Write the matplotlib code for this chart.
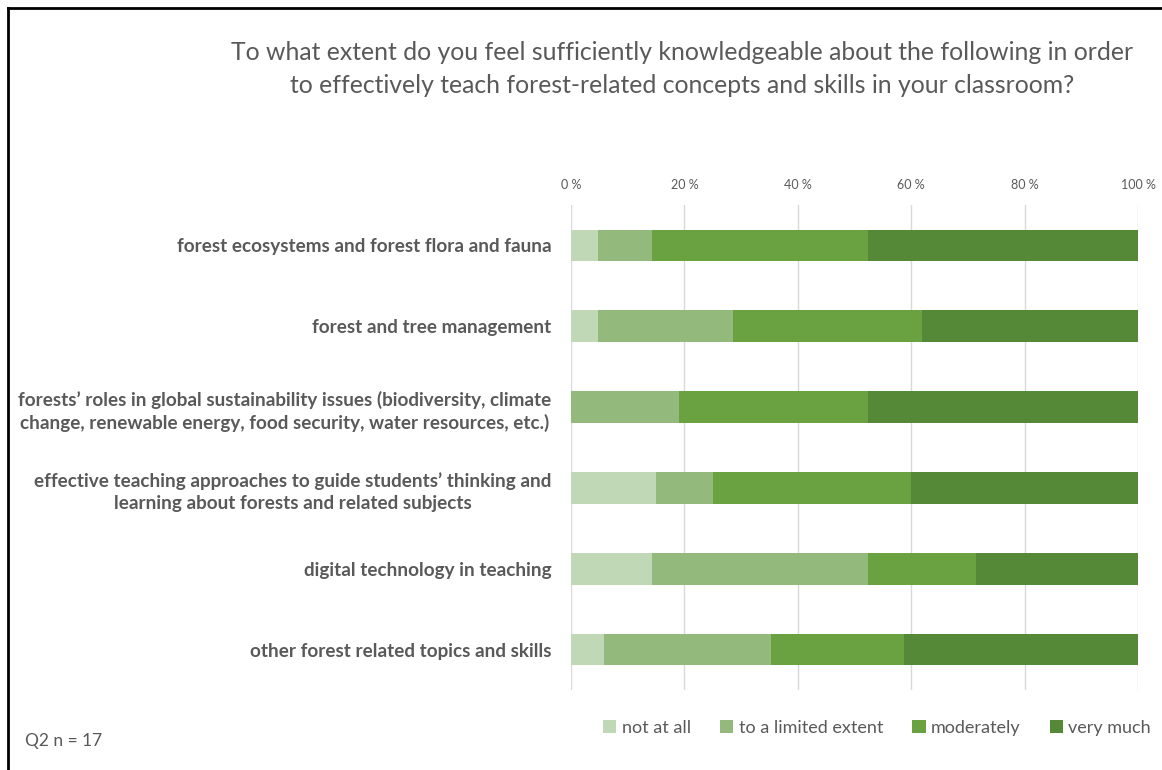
import matplotlib
matplotlib.use("Agg")
import matplotlib.pyplot as plt
from matplotlib.lines import Line2D
import numpy as np

plt.rcParams['font.family'] = ['Lato', 'DejaVu Sans']

categories = [
    "forest ecosystems and forest flora and fauna",
    "forest and tree management",
    "forests\u2019 roles in global sustainability issues (biodiversity, climate\nchange, renewable energy, food security, water resources, etc.)",
    "effective teaching approaches to guide students\u2019 thinking and\nlearning about forests and related subjects",
    "digital technology in teaching",
    "other forest related topics and skills",
]
series_names = ["not at all", "to a limited extent", "moderately", "very much"]
not_at_all = [4.8, 4.8, 0.0, 15.0, 14.3, 5.9]
limited = [9.5, 23.8, 19.0, 10.0, 38.1, 29.4]
moderately = [38.1, 33.3, 33.3, 35.0, 19.0, 23.5]
very_much = [47.6, 38.1, 47.7, 40.0, 28.6, 41.2]
xticks = [0, 20, 40, 60, 80, 100]
xtick_labels = ["0 %", "20 %", "40 %", "60 %", "80 %", "100 %"]
colors = ["#C0D8B5", "#93BA7C", "#6AA242", "#558837"]

fig = plt.figure(figsize=(11.62, 7.70), dpi=100)
ax = fig.add_axes([571/1162, 1-690/770, (1138-571)/1162, (690-205)/770])

y = np.arange(len(categories))
left = np.zeros(len(categories))
for vals, name, c in zip([not_at_all, limited, moderately, very_much], series_names, colors):
    ax.barh(y, vals, left=left, height=0.39, color=c, label=name, zorder=3)
    left += np.array(vals)

ax.set_xlim(0, 100)
ax.set_ylim(len(categories)-0.5, -0.5)
ax.set_xticks(xticks)
ax.set_xticklabels(xtick_labels, fontsize=9, color="#595959")
ax.xaxis.tick_top()
ax.tick_params(axis='x', length=0, pad=10)
ax.tick_params(axis='y', length=0, pad=14)
ax.set_yticks(y)
ax.set_yticklabels(categories, fontsize=13.6, fontweight='bold', color="#595959")
for t in ax.get_yticklabels():
    t.set_multialignment('center')
    t.set_linespacing(1.35)
ax.grid(axis='x', color="#D9D9D9", linewidth=1, zorder=0)
for s in ax.spines.values():
    s.set_visible(False)

fig.text(682/1162, 1-69/770,
         "To what extent do you feel sufficiently knowledgeable about the following in order\nto effectively teach forest-related concepts and skills in your classroom?",
         ha='center', va='center', fontsize=17.8, color="#595959", linespacing=1.55)

fig.text(25/1162, 1-741/770, "Q2 n = 17", fontsize=12.5, color="#595959", va='center')

fig.legend(loc='center', bbox_to_anchor=(877/1162, 1-728/770), ncol=4, frameon=False,
           fontsize=13, labelcolor="#595959", handlelength=0.75, handleheight=0.75,
           handletextpad=0.3, columnspacing=1.6)

fig.add_artist(Line2D([8/1162, 8/1162], [0, 1-8/770], color='black', linewidth=2, transform=fig.transFigure))
fig.add_artist(Line2D([8/1162, 1], [1-8/770, 1-8/770], color='black', linewidth=2, transform=fig.transFigure))

fig.savefig("out.png", dpi=100, facecolor='white')
